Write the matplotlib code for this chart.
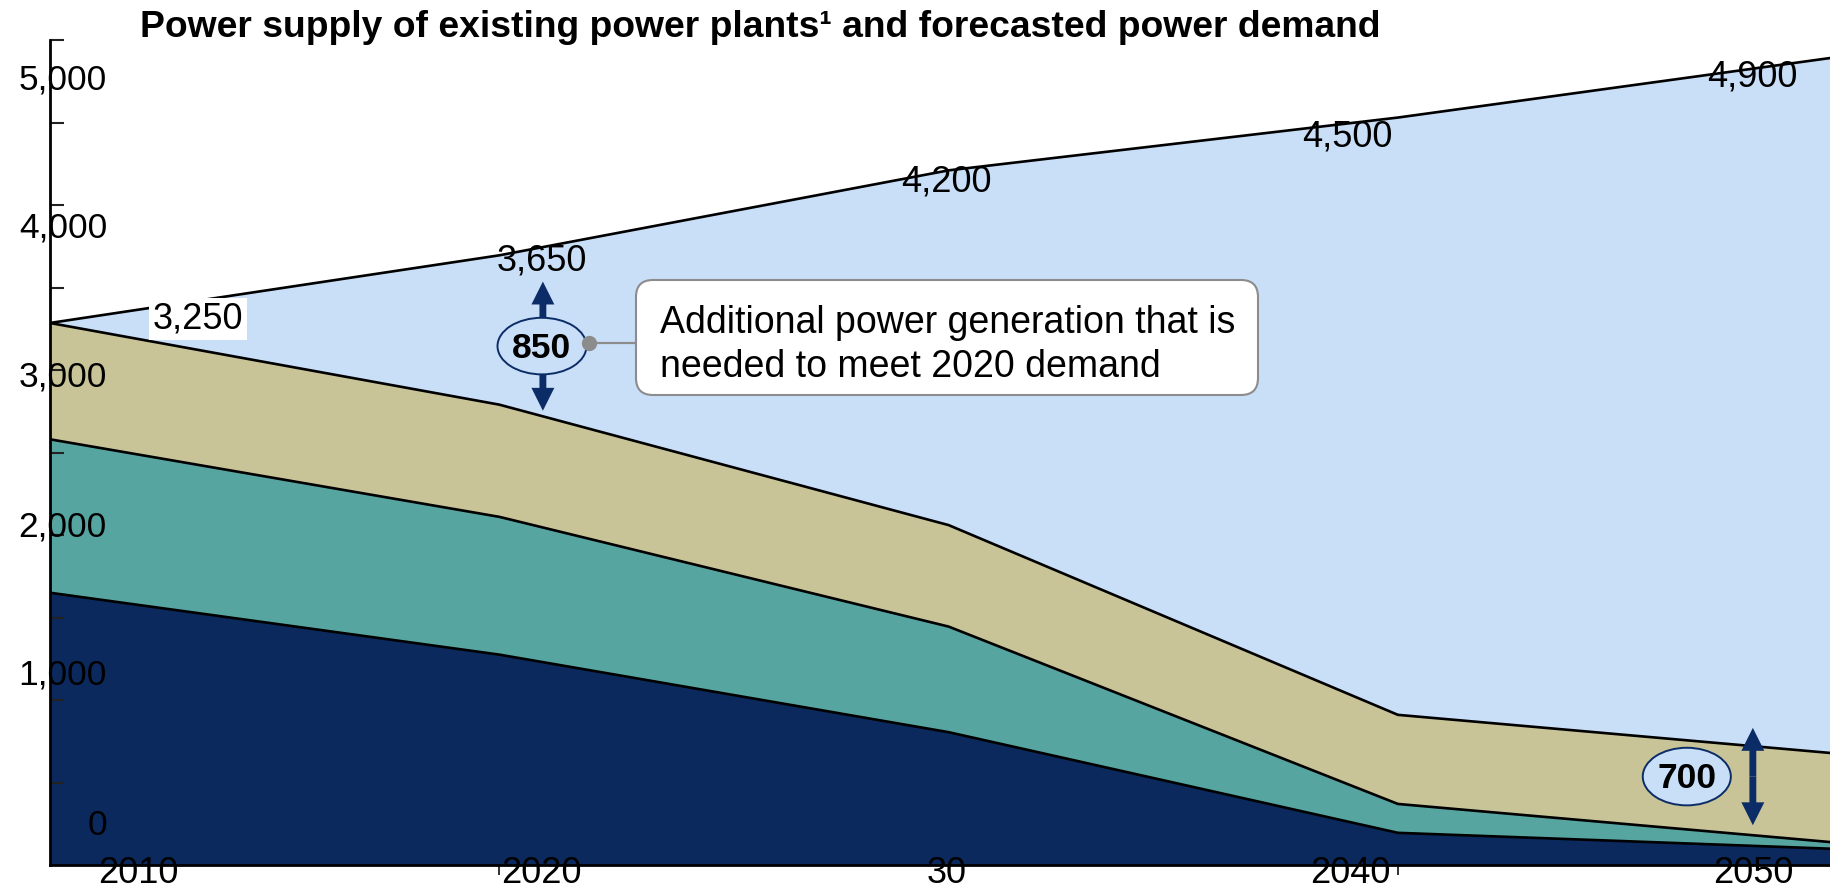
import matplotlib
matplotlib.use("Agg")
import matplotlib.pyplot as plt
from matplotlib.patches import Ellipse, FancyArrowPatch, FancyBboxPatch
import numpy as np

plt.rcParams['font.family'] = ['Liberation Sans', 'DejaVu Sans']

# ---------------- data ----------------
years = [2010, 2020, 2030, 2040, 2050]
demand = [3285, 3695, 4210, 4530, 4905]            # forecasted power demand (drawn line)
demand_labels = ["3,250", "3,650", "4,200", "4,500", "4,900"]
supply_navy = [1650, 1275, 805, 195, 95]
supply_teal = [930, 835, 640, 175, 35]
supply_khaki = [705, 680, 615, 540, 540]

ytick_values = [500, 1000, 1500, 2000, 2500, 3000, 3500, 4000, 4500, 5000]
ytick_labels = ["0", "1,000", "2,000", "3,000", "4,000", "5,000"]
ytick_label_base = [182, 1091, 1988, 2897, 3800, 4697]     # label baselines (as drawn)
xtick_values = [2020, 2030, 2040]
xtick_labels = ["2010", "2020", "30", "2040", "2050"]
xtick_label_pos = [2011.96, 2020.93, 2029.96, 2038.93, 2047.90]

demand_label_x = [2013.29, 2020.95, 2029.94, 2038.87, 2047.88]
demand_label_base = [3253, 3602, 4084, 4355, 4717]

gap_2020 = "850"
gap_2050 = "700"

title = "Power supply of existing power plants\u00b9 and forecasted power demand"
callout = "Additional power generation that is\nneeded to meet 2020 demand"

# ---------------- colours ----------------
NAVY = "#0b295d"
TEAL = "#56a5a1"
KHAKI = "#c8c497"
LIGHT = "#c9dff8"
ARROW = "#0b2c66"

W, H = 1830, 886
fig = plt.figure(figsize=(W / 100, H / 100), dpi=100)
ax_left, ax_bottom, ax_top = 50, 865, 40
ax = fig.add_axes([ax_left / W, (H - ax_bottom) / H, (W - ax_left) / W, (ax_bottom - ax_top) / H])
ax.set_xlim(2010, 2010 + (W - ax_left) / 44.93)
ax.set_ylim(0, 5000)

navy = np.array(supply_navy)
teal_top = navy + np.array(supply_teal)
khaki_top = teal_top + np.array(supply_khaki)
dem = np.array(demand)

ax.fill_between(years, khaki_top, dem, color=LIGHT, lw=0, zorder=1)
ax.stackplot(years, supply_navy, supply_teal, supply_khaki,
             colors=[NAVY, TEAL, KHAKI], lw=0, zorder=1)
for top in (navy, teal_top, khaki_top):
    ax.plot(years, top, color="black", lw=1.9, zorder=2, solid_joinstyle="round")
ax.plot(years, dem, color="black", lw=1.9, zorder=2, solid_joinstyle="round")

# axes styling
for s in ("top", "right"):
    ax.spines[s].set_visible(False)
for s in ("left", "bottom"):
    ax.spines[s].set_linewidth(2.0)
    ax.spines[s].set_color("black")
    ax.spines[s].set_zorder(3)
ax.set_yticks(ytick_values)
ax.set_xticks(xtick_values)
ax.tick_params(axis="y", direction="in", length=10, width=1.5, color="#222222", labelleft=False)
ax.tick_params(axis="x", direction="out", length=7, width=1.3, color="#222222", labelbottom=False)

ytrans = ax.get_yaxis_transform()
for lab, yb in zip(ytick_labels, ytick_label_base):
    ax.text(57 / (W - ax_left), yb, lab, transform=ytrans, ha="right", va="baseline",
            fontsize=25.5, color="black", zorder=6, clip_on=False)
for lab, xp in zip(xtick_labels, xtick_label_pos):
    ax.text(xp, -109, lab, ha="center", va="baseline", fontsize=26, color="black",
            zorder=6, clip_on=False)

# demand value labels
for i, (lab, xp, yb) in enumerate(zip(demand_labels, demand_label_x, demand_label_base)):
    kw = {}
    if i == 0:
        kw["bbox"] = dict(fc="white", ec="none", pad=2.5)
    ax.text(xp, yb, lab, ha="center", va="baseline", fontsize=26, color="black",
            zorder=6, **kw)

# title
fig.text(140 / W, (H - 37) / H, title, ha="left", va="baseline", fontsize=26.8,
         fontweight="bold", color="black")

# ---- 850 gap annotation ----
def varrow(x, y0, y1):
    a = FancyArrowPatch((x, y0), (x, y1),
                        arrowstyle="simple,head_length=1.0,head_width=1.0,tail_width=0.3",
                        mutation_scale=16.5, color=ARROW, lw=0, shrinkA=0, shrinkB=0, zorder=4)
    ax.add_patch(a)

e850 = (2020.95, 3145)
varrow(2020.97, e850[1], 3536)
varrow(2020.97, e850[1], 2753)
ax.add_patch(Ellipse(e850, 1.98, 343, fc=LIGHT, ec=ARROW, lw=1.4, zorder=5))
ax.text(e850[0], 3072, gap_2020, ha="center", va="baseline", fontsize=25.5,
        fontweight="bold", color="black", zorder=6)

# connector and callout box
dot_x, dot_y = 2021.99, 3163
box_left_x = 2023.04
ax.plot([dot_x, box_left_x], [dot_y, dot_y], color="#8c8c8c", lw=1.6, zorder=5)
ax.plot([dot_x], [dot_y], "o", ms=10, color="#8c8c8c", zorder=5)
box = FancyBboxPatch((636 / 100, (H - 395) / 100), 622 / 100, 115 / 100,
                     boxstyle="round,pad=0,rounding_size=0.17",
                     transform=fig.dpi_scale_trans, fc="white", ec="#8c8c8c", lw=1.5, zorder=5)
ax.add_patch(box)
line1, line2 = callout.split("\n")
fig.text(660 / W, (H - 333) / H, line1, ha="left", va="baseline", fontsize=27, zorder=7)
fig.text(660 / W, (H - 377) / H, line2, ha="left", va="baseline", fontsize=27, zorder=7)

# ---- 700 annotation ----
varrow(2047.90, 536, 831)
varrow(2047.90, 536, 241)
e700 = (2046.43, 536)
ax.add_patch(Ellipse(e700, 1.96, 349, fc=LIGHT, ec=ARROW, lw=1.4, zorder=5))
ax.text(e700[0], 464, gap_2050, ha="center", va="baseline", fontsize=25.5,
        fontweight="bold", color="black", zorder=6)

fig.savefig("out.png", dpi=100)
